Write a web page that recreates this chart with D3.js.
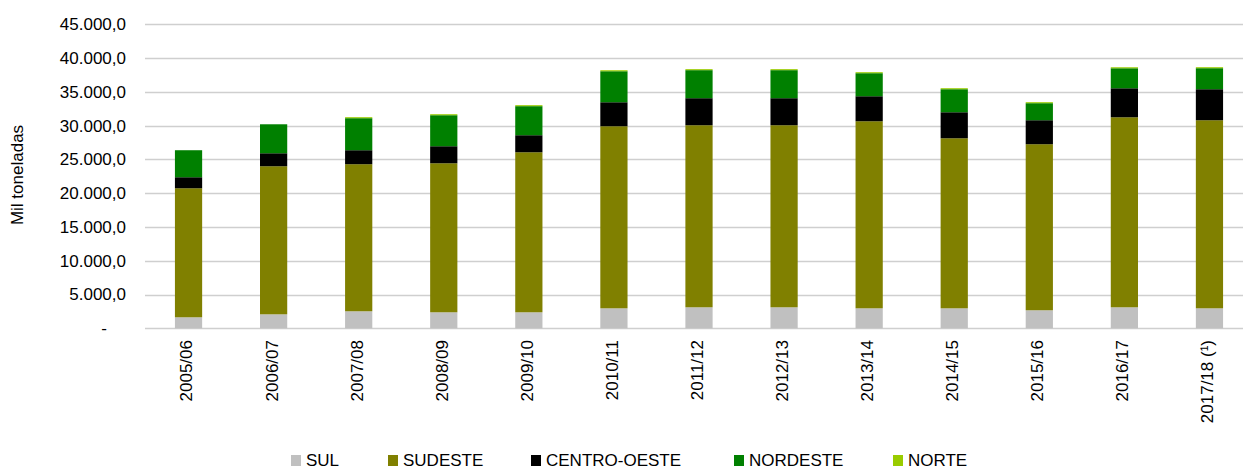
<!DOCTYPE html>
<html lang="pt">
	<head>
		<meta charset="utf-8">
		<title>Mil toneladas por região</title>
		<script type="text/javascript" src="https://d3js.org/d3.v7.min.js"></script>
		<style type="text/css">
			body { margin: 0; background: #fff; }
			text { font-family: "Liberation Sans", Arial, sans-serif; fill: #000; }
		</style>
	</head>
	<body>
		<script type="text/javascript">

			//Data (mil toneladas)
			var categories = ["2005/06", "2006/07", "2007/08", "2008/09", "2009/10", "2010/11", "2011/12",
				"2012/13", "2013/14", "2014/15", "2015/16", "2016/17", "2017/18 (¹)"];
			var sul        = [1630, 2070, 2520, 2370, 2370, 2960, 3110, 3110, 2960, 2960, 2670, 3110, 2960];
			var sudeste    = [19100, 21920, 21770, 22060, 23690, 26950, 26950, 26950, 27690, 25170, 24580, 28130, 27840];
			var centroOeste = [1630, 1920, 2070, 2520, 2520, 3550, 4000, 4000, 3700, 3850, 3550, 4290, 4590];
			var nordeste   = [4000, 4290, 4740, 4590, 4300, 4590, 4150, 4150, 3410, 3410, 2520, 2960, 3110];
			var norte      = [0, 0, 150, 150, 150, 150, 150, 150, 150, 150, 150, 150, 150];
			var yTicks = [0, 5000, 10000, 15000, 20000, 25000, 30000, 35000, 40000, 45000];

			var seriesNames = ["SUL", "SUDESTE", "CENTRO-OESTE", "NORDESTE", "NORTE"];
			var seriesValues = [sul, sudeste, centroOeste, nordeste, norte];
			var colors = ["#c0c0c0", "#808000", "#000000", "#008000", "#99cc00"];

			//Width and height
			var w = 1243;
			var h = 471;
			var fontSize = "17px";

			var svg = d3.select("body")
						.append("svg")
						.attr("width", w)
						.attr("height", h);

			//rows for the stack
			var rows = categories.map(function(c, i) {
				var r = { cat: c };
				seriesNames.forEach(function(s, j) { r[s] = seriesValues[j][i]; });
				return r;
			});
			var stacked = d3.stack().keys(seriesNames)(rows);

			var x = d3.scaleBand()
				.domain(categories)
				.range([146, 1252])
				.paddingInner(0.68)
				.paddingOuter(0.34);

			var y = d3.scaleLinear()
				.domain([0, 45000])
				.range([328.3, 24.3]);

			//gridlines
			svg.append("g")
				.selectAll("line")
				.data(yTicks)
				.enter()
				.append("line")
				.attr("x1", 145)
				.attr("x2", w)
				.attr("y1", function(d) { return Math.round(y(d)) + 0.5; })
				.attr("y2", function(d) { return Math.round(y(d)) + 0.5; })
				.attr("stroke", "#cfcfcf")
				.attr("stroke-width", 1.3);

			//y axis labels
			var fmt = d3.formatLocale({ decimal: ",", thousands: ".", grouping: [3], currency: ["R$", ""] }).format(",.1f");
			var yAxis = d3.axisLeft(y)
				.tickValues(yTicks)
				.tickSize(0)
				.tickPadding(0)
				.tickFormat(function(d) { return d === 0 ? "-" : fmt(d); });
			var yg = svg.append("g")
				.attr("transform", "translate(126,0)")
				.call(yAxis);
			yg.select(".domain").remove();
			yg.selectAll("text")
				.attr("font-size", fontSize)
				.attr("font-family", "Liberation Sans, Arial, sans-serif")
				.attr("fill", "#000")
				.attr("dx", function(d) { return d === 0 ? "-19px" : 0; });

			//bars
			svg.append("g")
				.selectAll("g")
				.data(stacked)
				.enter()
				.append("g")
				.attr("fill", function(d, i) { return colors[i]; })
				.selectAll("rect")
				.data(function(d) { return d; })
				.enter()
				.append("rect")
				.attr("x", function(d) { return x(d.data.cat); })
				.attr("width", x.bandwidth())
				.attr("y", function(d) { return y(d[1]); })
				.attr("height", function(d) { return y(d[0]) - y(d[1]); });

			//x axis labels (rotated)
			var xAxis = d3.axisBottom(x).tickSize(0).tickPadding(0);
			var xg = svg.append("g")
				.attr("transform", "translate(-2,340)")
				.call(xAxis);
			xg.select(".domain").remove();
			xg.selectAll("text")
				.attr("font-size", fontSize)
				.attr("font-family", "Liberation Sans, Arial, sans-serif")
				.attr("fill", "#000")
				.attr("transform", "rotate(-90)")
				.attr("text-anchor", "end")
				.attr("x", 0)
				.attr("y", 0)
				.attr("dy", "0.35em");

			//y axis title
			svg.append("text")
				.attr("transform", "translate(23,175) rotate(-90)")
				.attr("text-anchor", "middle")
				.attr("font-size", fontSize)
				.text("Mil toneladas");

			//legend
			var legendX = [291, 388, 531, 734, 893];
			var legend = svg.append("g")
				.selectAll("g")
				.data(seriesNames)
				.enter()
				.append("g")
				.attr("transform", function(d, i) { return "translate(" + legendX[i] + ",455)"; });
			legend.append("rect")
				.attr("width", 10)
				.attr("height", 11)
				.attr("fill", function(d, i) { return colors[i]; });
			legend.append("text")
				.attr("x", 15)
				.attr("y", 11)
				.attr("font-size", fontSize)
				.text(function(d) { return d; });

		</script>
	</body>
</html>
